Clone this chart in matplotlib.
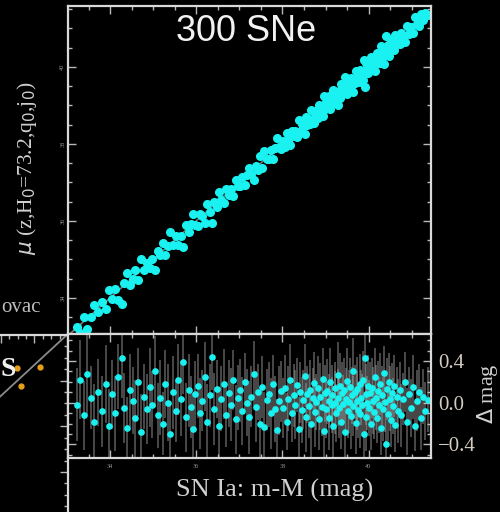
import matplotlib.pyplot as plt
import numpy as np
from matplotlib.ticker import MultipleLocator

# SN Ia distance moduli (m-M), Hubble residuals and their errors
sn_mM = [33.22, 33.30, 33.38, 33.47, 33.55, 33.63, 33.72, 33.80, 33.90, 33.97,
         34.05, 34.12, 34.18, 34.28, 34.33, 34.40, 34.46, 34.52, 34.58, 34.65,
         34.72, 34.78, 34.85, 34.92, 34.98,
         35.03, 35.10, 35.15, 35.22, 35.28, 35.34, 35.40, 35.46, 35.52, 35.58,
         35.64, 35.70, 35.75, 35.82, 35.88, 35.93, 35.98,
         36.03, 36.08, 36.14, 36.20, 36.25, 36.31, 36.37, 36.42, 36.48, 36.53,
         36.58, 36.64, 36.70, 36.75, 36.80, 36.86, 36.91, 36.96,
         37.02, 37.07, 37.12, 37.18, 37.23, 37.28, 37.33, 37.38, 37.43, 37.48,
         37.53, 37.58, 37.63, 37.68, 37.73, 37.78, 37.83, 37.88, 37.93, 37.97,
         38.02, 38.06, 38.10, 38.14, 38.18, 38.22, 38.26, 38.30, 38.34, 38.38,
         38.41, 38.45, 38.48, 38.52, 38.55, 38.58, 38.61, 38.64, 38.67, 38.70,
         38.73, 38.76, 38.79, 38.82, 38.85, 38.88, 38.91, 38.94, 38.97, 38.99,
         39.02, 39.04, 39.07, 39.09, 39.11, 39.14, 39.16, 39.18, 39.21, 39.23,
         39.25, 39.28, 39.30, 39.32, 39.34, 39.37, 39.39, 39.41, 39.43, 39.46,
         39.48, 39.50, 39.52, 39.54, 39.57, 39.59, 39.61, 39.63, 39.65, 39.68,
         39.70, 39.72, 39.74, 39.76, 39.79, 39.81, 39.83, 39.85, 39.87, 39.89,
         39.91, 39.93, 39.95, 39.97, 39.99,
         40.01, 40.03, 40.06, 40.08, 40.10, 40.13, 40.15, 40.17, 40.20, 40.22,
         40.24, 40.27, 40.29, 40.31, 40.34, 40.36, 40.38, 40.41, 40.43, 40.45,
         40.48, 40.50, 40.52, 40.55, 40.57, 40.60, 40.62, 40.65, 40.68,
         40.72, 40.76, 40.80, 40.85, 40.89, 40.94, 40.98, 41.03, 41.07, 41.12,
         41.17, 41.22, 41.27, 41.32, 41.38]

sn_dmag = [-0.02, 0.22, -0.12, 0.28, 0.05, -0.18, 0.10, -0.08, 0.18, -0.22,
           0.08, -0.10, 0.25, 0.43, -0.05, -0.24, 0.12, 0.02, -0.15, 0.20,
           -0.28, 0.06, -0.06, 0.15, -0.02,
           0.30, -0.12, 0.05, -0.20, 0.18, 0.00, -0.30, 0.10, -0.08, 0.22,
           0.04, 0.39, -0.14, 0.12, -0.04, -0.25, 0.08,
           0.16, -0.10, 0.02, 0.25, -0.18, 0.07, 0.44, -0.06, 0.13, -0.22,
           0.04, 0.18, -0.12, 0.09, -0.02, 0.22, -0.16, 0.05,
           0.12, -0.08, 0.20, 0.00, -0.14, 0.06, 0.28, -0.04, 0.10, -0.20,
           0.15, -0.23, 0.03, 0.08, -0.10, 0.18, -0.06, -0.26, 0.02, 0.11,
           -0.05, 0.14, -0.18, 0.04, 0.22, -0.10, 0.07, -0.02, 0.17, -0.25,
           0.10, -0.07, 0.03, 0.26, -0.14, 0.08, -0.03, 0.12, -0.20, 0.05,
           0.19, -0.09, 0.01, 0.14, -0.16, 0.06, -0.04, 0.23, -0.27, 0.09,
           -0.06, 0.11, 0.02, -0.15, 0.20, -0.02, 0.07, -0.22, 0.14, 0.00,
           -0.10, 0.27, 0.05, -0.05, 0.16, -0.18, 0.09, -0.01, 0.12, -0.28,
           0.04, 0.21, -0.08, 0.01, 0.15, -0.13, 0.07, -0.03, 0.30, 0.10,
           -0.19, 0.02, 0.13, -0.07, 0.18, -0.11, 0.05, -0.02, 0.22, -0.30,
           0.43, 0.08, -0.14, 0.00, 0.16,
           -0.05, 0.09, -0.20, 0.14, 0.02, -0.09, 0.25, 0.05, -0.15, 0.11,
           -0.02, 0.18, -0.24, 0.07, -0.06, 0.29, 0.01, -0.40, 0.13, -0.11,
           0.20, 0.04, -0.17, 0.09, -0.03, 0.16, -0.21, 0.06, -0.08,
           0.12, -0.12, 0.04, 0.20, -0.18, 0.08, -0.05, 0.15, -0.22, 0.02,
           0.10, -0.15, 0.06, -0.08, 0.03]

sn_err = [0.35, 0.38, 0.33, 0.40, 0.30, 0.36, 0.32, 0.34, 0.37, 0.35,
          0.33, 0.36, 0.31, 0.38, 0.34, 0.30, 0.35, 0.32, 0.37, 0.33,
          0.36, 0.31, 0.34, 0.38, 0.32,
          0.34, 0.31, 0.36, 0.30, 0.33, 0.37, 0.32, 0.35, 0.30, 0.34,
          0.36, 0.31, 0.33, 0.35, 0.30, 0.34, 0.32,
          0.31, 0.34, 0.29, 0.33, 0.36, 0.30, 0.32, 0.35, 0.28, 0.33,
          0.31, 0.34, 0.30, 0.32, 0.35, 0.29, 0.33, 0.31,
          0.30, 0.33, 0.28, 0.32, 0.35, 0.29, 0.31, 0.34, 0.27, 0.32,
          0.30, 0.33, 0.29, 0.31, 0.34, 0.28, 0.32, 0.30, 0.33, 0.29,
          0.29, 0.32, 0.27, 0.31, 0.34, 0.28, 0.30, 0.33, 0.26, 0.31,
          0.29, 0.32, 0.28, 0.30, 0.33, 0.27, 0.31, 0.29, 0.32, 0.28,
          0.30, 0.33, 0.27, 0.31, 0.29, 0.32, 0.28, 0.30, 0.33, 0.27,
          0.28, 0.31, 0.26, 0.30, 0.33, 0.27, 0.29, 0.32, 0.25, 0.30,
          0.28, 0.31, 0.27, 0.29, 0.32, 0.26, 0.30, 0.28, 0.31, 0.27,
          0.29, 0.32, 0.26, 0.30, 0.28, 0.31, 0.27, 0.29, 0.32, 0.26,
          0.30, 0.28, 0.31, 0.27, 0.29, 0.32, 0.26, 0.30, 0.28, 0.31,
          0.27, 0.29, 0.32, 0.26, 0.30,
          0.27, 0.30, 0.25, 0.29, 0.32, 0.26, 0.28, 0.31, 0.24, 0.29,
          0.27, 0.30, 0.26, 0.28, 0.31, 0.25, 0.29, 0.27, 0.30, 0.26,
          0.28, 0.31, 0.25, 0.29, 0.27, 0.30, 0.26, 0.28, 0.31,
          0.27, 0.30, 0.25, 0.29, 0.32, 0.26, 0.28, 0.31, 0.24, 0.29,
          0.27, 0.30, 0.26, 0.28, 0.31]

# neighbouring panel (only its corner shows)
side_x = [0.696, 0.833, 0.720]
side_y = [0.855, 0.860, 0.776]
side_line_x = [0.50, 1.00]
side_line_y = [0.665, 1.005]

mM = np.array(sn_mM)
dmag = np.array(sn_dmag)
mu_z = mM - dmag

CYAN = '#19f2f0'
FG = '#d9d9d9'
plt.rcParams['font.family'] = ['Liberation Serif', 'DejaVu Serif']

fig = plt.figure(figsize=(5, 5.12), dpi=100, facecolor='black')

def style(ax):
    ax.set_facecolor('black')
    for s in ax.spines.values():
        s.set_color(FG)
        s.set_linewidth(1.6)
    ax.tick_params(which='both', direction='in', colors='#b8b8b8',
                   top=True, right=True, width=1.0)
    ax.tick_params(which='major', length=6)
    ax.tick_params(which='minor', length=3)

# neighbour panel, mostly off the figure
axs = fig.add_axes([-0.2, -0.1, 0.336, 0.4457])
style(axs)
axs.set_xlim(0, 1)
axs.set_ylim(0, 1)
axs.xaxis.set_major_locator(MultipleLocator(0.2))
axs.xaxis.set_minor_locator(MultipleLocator(0.05))
axs.yaxis.set_major_locator(MultipleLocator(0.2))
axs.yaxis.set_minor_locator(MultipleLocator(0.05))
axs.tick_params(labelleft=False, labelbottom=False)
axs.plot(side_line_x, side_line_y, color='#8a8a8a', lw=1.3)
axs.plot(side_x, side_y, 'o', color='#e8a018', ms=3.5)

# Hubble diagram
ax1 = fig.add_axes([0.136, 0.3477, 0.726, 0.6406])
style(ax1)
ax1.set_xlim(33.02, 41.45)
ax1.set_ylim(33.06, 41.58)
ax1.plot([33.0, 41.6], [33.0, 41.6], color='#777777', lw=1.2, zorder=1)
ax1.plot(mM, mu_z, 'o', color=CYAN, ms=5.5, mec=CYAN, zorder=2)
ax1.xaxis.set_major_locator(MultipleLocator(2))
ax1.xaxis.set_minor_locator(MultipleLocator(0.5))
ax1.yaxis.set_major_locator(MultipleLocator(2))
ax1.yaxis.set_minor_locator(MultipleLocator(0.5))
ax1.tick_params(labelbottom=False, labelsize=4.5, labelcolor='#9a9a9a', pad=2)
for lab in ax1.get_yticklabels():
    lab.set_rotation(90)
    lab.set_va('center')
ax1.text(0.49, 0.975, '300 SNe', transform=ax1.transAxes, ha='center', va='top',
         fontsize=26, color='#f2f2f2', family='Liberation Sans')

# residuals
ax2 = fig.add_axes([0.136, 0.1055, 0.726, 0.2422])
style(ax2)
ax2.set_xlim(33.02, 41.45)
ax2.set_ylim(-0.53, 0.66)
ax2.errorbar(mM, dmag, yerr=sn_err, fmt='none', ecolor='#9a9a9a',
             elinewidth=1.1, alpha=0.6, zorder=1)
ax2.plot(mM, dmag, 'o', color=CYAN, ms=3.8, mec=CYAN, zorder=2)
ax2.xaxis.set_major_locator(MultipleLocator(2))
ax2.xaxis.set_minor_locator(MultipleLocator(0.5))
ax2.yaxis.set_major_locator(MultipleLocator(0.4))
ax2.yaxis.set_minor_locator(MultipleLocator(0.1))
ax2.tick_params(axis='x', labelsize=4.5, labelcolor='#9a9a9a', pad=4)
ax2.tick_params(axis='y', labelleft=False, labelright=True, labelsize=15,
                labelcolor='#d4ccc0', pad=5)

fig.text(0.55, 0.043, 'SN Ia: m-M (mag)', ha='center', va='center',
         fontsize=19, color='#d0d0d0')
fig.text(0.054, 1 - 168 / 512, r'$\mu$ (z,H$_0$=73.2,q$_0$,j$_0$)',
         rotation=90, ha='center', va='center', fontsize=15.5, color='#d0d0d0')
fig.text(0.976, 1 - 394 / 512, r'$\Delta$ mag', rotation=90, ha='center',
         va='center', fontsize=16, color='#d0d0d0')
fig.text(0.002, 1 - 308 / 512, 'ovac', ha='left', va='center',
         fontsize=15, color='#bdbdbd')
fig.text(0.0, 1 - 369 / 512, 'S', ha='left', va='center', fontsize=20,
         color='#f0f0f0', weight='bold')

fig.savefig('out.png', dpi=100, facecolor='black')
